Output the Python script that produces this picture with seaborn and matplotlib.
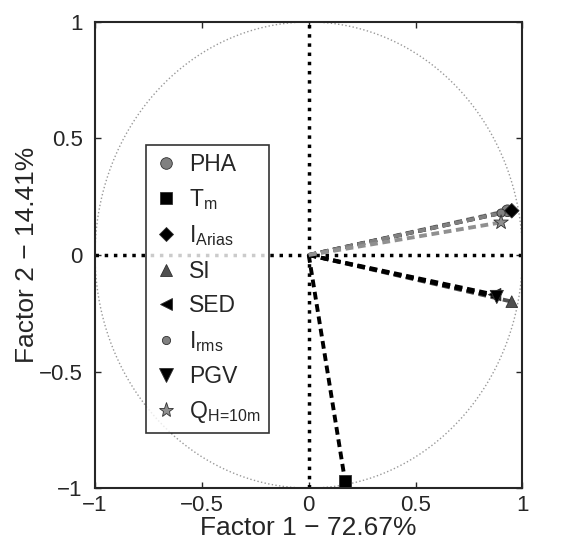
import numpy as np
import pandas as pd
import matplotlib
matplotlib.use("Agg")
import matplotlib.pyplot as plt
import seaborn as sns

# factor loadings
variables = ["PHA", "T$_m$", "I$_{Arias}$", "SI", "SED", "I$_{rms}$", "PGV", r"Q$_{H\!=\!10m}$"]
factor1 = [0.93, 0.17, 0.95, 0.95, 0.87, 0.90, 0.88, 0.90]
factor2 = [0.19, -0.97, 0.19, -0.20, -0.17, 0.18, -0.18, 0.14]
colours = ["#808080", "black", "black", "#505050", "black", "#808080", "black", "#909090"]
markers = ["o", "s", "D", "^", "<", "o", "v", "*"]
sizes = [70, 70, 55, 70, 80, 35, 90, 120]

df = pd.DataFrame({"var": variables, "f1": factor1, "f2": factor2})

sns.set_style("ticks")
plt.rcParams["font.family"] = ["Liberation Sans", "DejaVu Sans"]
plt.rcParams["mathtext.default"] = "regular"

fig = plt.figure(figsize=(5.76, 5.49), dpi=100)
ax = fig.add_axes([0.165, 0.111, 0.742, 0.849])

# unit circle
t = np.linspace(0, 2 * np.pi, 400)
ax.plot(np.cos(t), np.sin(t), ls=":", color="#999999", lw=1.0, zorder=1)

# axes through the origin
ax.axhline(0, color="black", ls=":", lw=2.5, zorder=1)
ax.axvline(0, color="black", ls=":", lw=2.5, zorder=1)

# dashed loading vectors
for x, y, c in zip(factor1, factor2, colours):
    ax.plot([0, x], [0, y], ls="--", color=c, lw=2.8, dashes=(2, 1.2), zorder=2)

sns.scatterplot(data=df, x="f1", y="f2", hue="var", style="var", size="var",
                palette=dict(zip(variables, colours)),
                markers=dict(zip(variables, markers)),
                sizes=dict(zip(variables, sizes)),
                edgecolor="#303030", linewidth=0.6, ax=ax, zorder=3, legend="full")

ax.set_xlim(-1, 1)
ax.set_ylim(-1, 1)
ax.set_xticks([-1, -0.5, 0, 0.5, 1])
ax.set_yticks([-1, -0.5, 0, 0.5, 1])
ax.set_xticklabels(["\u22121", "\u22120.5", "0", "0.5", "1"])
ax.set_yticklabels(["\u22121", "\u22120.5", "0", "0.5", "1"])
ax.tick_params(direction="in", top=True, right=True, labelsize=16, length=4, width=1)
ax.tick_params(axis="x", pad=5)
ax.tick_params(axis="y", pad=9)
for s in ax.spines.values():
    s.set_linewidth(1.5)
ax.set_xlabel("Factor 1 \u2212 72.67%", fontsize=19, labelpad=0)
ax.set_ylabel("Factor 2 \u2212 14.41%", fontsize=19, labelpad=0)

handles, labels = ax.get_legend_handles_labels()
leg = ax.legend(handles, labels, loc="upper left", bbox_to_anchor=(0.12, 0.737),
                borderaxespad=0, fontsize=16.5, frameon=True, fancybox=False,
                edgecolor="black", labelspacing=0.5, handletextpad=0.5,
                handlelength=1.0, borderpad=0.35, markerscale=1.0)
leg.get_frame().set_linewidth(1.2)

fig.savefig("out.png", dpi=100, facecolor="white")
